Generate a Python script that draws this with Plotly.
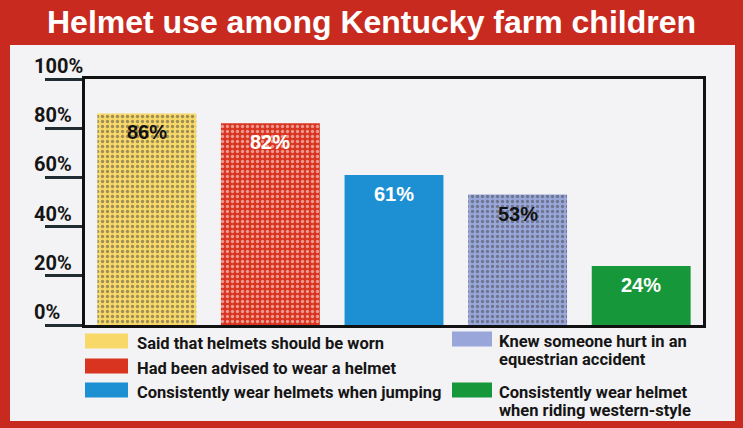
import plotly.graph_objects as go

# ---- data ----
categories = [
    "Said that helmets should be worn",
    "Had been advised to wear a helmet",
    "Consistently wear helmets when jumping",
    "Knew someone hurt in an equestrian accident",
    "Consistently wear helmet when riding western-style",
]
values = [86, 82, 61, 53, 24]
legend_lines = [
    ["Said that helmets should be worn"],
    ["Had been advised to wear a helmet"],
    ["Consistently wear helmets when jumping"],
    ["Knew someone hurt in an", "equestrian accident"],
    ["Consistently wear helmet", "when riding western-style"],
]
y_ticks = [0, 20, 40, 60, 80, 100]
y_tick_labels = ["0%", "20%", "40%", "60%", "80%", "100%"]
title_text = "Helmet use among Kentucky farm children"

# ---- styles ----
bar_colors = ["#f7d868", "#d9341f", "#1d8fd3", "#98a6da", "#16973a"]
dot_colors = ["#eab843", "#f2743f", "#1d8fd3", "#6a5cc0", "#16973a"]
pattern_shapes = [".", ".", "", ".", ""]
label_colors = ["#111111", "#ffffff", "#ffffff", "#111111", "#ffffff"]
RED = "#c92a1f"
W, H = 743, 428
ML, MR, MT, MB = 85, 40, 79, 103
PW, PH = W - ML - MR, H - MT - MB
COND = "Roboto, Liberation Sans, Arial"


def px_x(p):
    return (p - ML) / PW


def px_y(p):
    return (H - MB - p) / PH


fig = go.Figure()
fig.add_trace(go.Bar(
    x=categories,
    y=values,
    marker=dict(
        color=bar_colors,
        line=dict(width=0),
        pattern=dict(shape=pattern_shapes, fgcolor=dot_colors,
                     size=5, solidity=0.35),
    ),
    width=0.8,
    hoverinfo="skip",
    showlegend=False,
))

annotations = []
# value labels inside bars
for c, v, col in zip(categories, values, label_colors):
    annotations.append(dict(
        x=c, y=v, xref="x", yref="y", text=f"<b>{v}%</b>",
        showarrow=False, yanchor="top", yshift=-6,
        font=dict(family="Liberation Sans, Arial", size=20, color=col),
    ))
# y tick labels (left-aligned above tick lines)
for t, lab in zip(y_ticks, y_tick_labels):
    annotations.append(dict(
        x=px_x(32), y=t, xref="paper", yref="y", text=f"<b>{lab}</b>",
        showarrow=False, xanchor="left", yanchor="middle", yshift=13,
        font=dict(family=COND, size=20, color="#151515"),
    ))

shapes = [
    # light panel inside red frame
    dict(type="rect", xref="paper", yref="paper",
         x0=px_x(10), x1=px_x(735), y0=px_y(421), y1=px_y(45),
         fillcolor="#f3f2f4", line=dict(width=0), layer="below"),
]

# legend: two columns
legend_pos = [
    (85, 128, 341, 135),
    (85, 128, 366, 135),
    (85, 128, 390, 135),
    (452, 492, 339, 497),
    (452, 492, 390, 497),
]
for (x0, x1, yc, tx), col, lines in zip(legend_pos, bar_colors, legend_lines):
    shapes.append(dict(type="rect", xref="paper", yref="paper",
                       x0=px_x(x0), x1=px_x(x1),
                       y0=px_y(yc + 7.5), y1=px_y(yc - 7.5),
                       fillcolor=col, line=dict(width=0)))
    for i, ln in enumerate(lines):
        annotations.append(dict(
            x=px_x(tx), y=px_y(yc + 2 + i * 18), xref="paper", yref="paper",
            text=f"<b>{ln}</b>", showarrow=False,
            xanchor="left", yanchor="middle",
            font=dict(family=COND, size=16.5, color="#151515"),
        ))

fig.update_layout(
    width=W, height=H,
    margin=dict(l=ML, r=MR, t=MT, b=MB),
    paper_bgcolor=RED,
    plot_bgcolor="#efeef1",
    bargap=0.2,
    title=dict(text=f"<b>{title_text}</b>", x=0.5, xref="container",
               y=1 - 22 / H, yref="container", xanchor="center",
               yanchor="middle",
               font=dict(family="Liberation Sans, Arial", size=32,
                         color="#ffffff")),
    xaxis=dict(showticklabels=False, ticks="", showgrid=False,
               showline=True, linewidth=3, linecolor="#111111", mirror=True,
               zeroline=False, fixedrange=True),
    yaxis=dict(range=[0, 100], tickvals=y_ticks, showticklabels=False,
               ticks="outside", ticklen=37, tickwidth=2.5,
               tickcolor="#1f2d33", showgrid=False, zeroline=False,
               showline=True, linewidth=3, linecolor="#111111", mirror=True,
               fixedrange=True),
    shapes=shapes,
    annotations=annotations,
    showlegend=False,
)

fig.write_html("out.html", config={"displayModeBar": False},
               post_script="document.body.style.margin='0';"
                           "document.body.style.overflow='hidden';")
